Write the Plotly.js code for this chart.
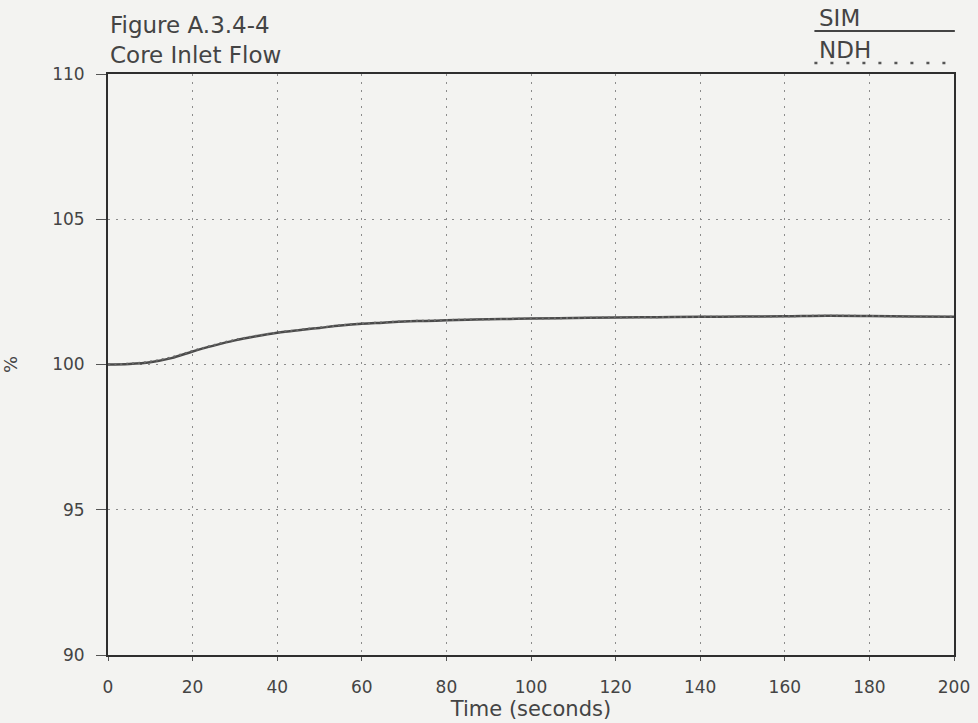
<!DOCTYPE html>
<html>
<head>
<meta charset="utf-8">
<script src="https://cdn.plot.ly/plotly-3.0.1.min.js"></script>
<style>
html,body{margin:0;padding:0;background:#f3f3f1;}
#chart{width:978px;height:723px;}
</style>
</head>
<body>
<div id="chart"></div>
<script>
// Time (seconds)
var timeSec = [0,5,10,15,20,25,30,35,40,45,50,55,60,65,70,75,80,85,90,95,100,110,120,130,140,150,160,170,180,190,200];
// SIM core inlet flow (%)
var simFlow = [100.00,100.02,100.08,100.22,100.45,100.65,100.83,100.97,101.09,101.18,101.26,101.34,101.40,101.44,101.48,101.50,101.52,101.54,101.56,101.57,101.58,101.60,101.62,101.63,101.64,101.65,101.66,101.68,101.67,101.65,101.64];
// NDH core inlet flow (%)
var ndhFlow = [100.00,100.03,100.10,100.25,100.47,100.67,100.85,100.99,101.10,101.19,101.27,101.35,101.41,101.45,101.49,101.51,101.53,101.55,101.56,101.57,101.58,101.60,101.62,101.63,101.64,101.65,101.66,101.68,101.67,101.65,101.64];
var xTicks = [0,20,40,60,80,100,120,140,160,180,200];
var yTicks = [90,95,100,105,110];
var titleLines = ["Figure A.3.4-4","Core Inlet Flow"];
var seriesNames = ["SIM","NDH"];

var ink = '#444';
var font = 'DejaVu Sans, Liberation Sans, Arial, sans-serif';

var traces = [
  {x: timeSec, y: simFlow, name: seriesNames[0], mode: 'lines', line: {color: '#4a4a4a', width: 2.5, shape: 'spline'}, showlegend: false},
  {x: timeSec, y: ndhFlow, name: seriesNames[1], mode: 'lines', line: {color: '#6a6a6a', width: 2, dash: '2px,4px', shape: 'spline'}, showlegend: false}
];

var axisCommon = {
  showline: true, mirror: true, linecolor: '#2e2e2e', linewidth: 2,
  showgrid: true, gridcolor: '#8c8c8c', griddash: '2px,6px', gridwidth: 1,
  zeroline: false,
  tickfont: {family: font, size: 17, color: ink},
  ticks: 'outside', tickcolor: '#555'
};

var layout = {
  width: 978, height: 723,
  paper_bgcolor: '#f3f3f1', plot_bgcolor: '#f3f3f1',
  margin: {l: 108, r: 24, t: 74, b: 68},
  font: {family: font, color: ink},
  xaxis: Object.assign({}, axisCommon, {
    range: [0, 200], tickvals: xTicks, ticktext: xTicks.map(String),
    ticklen: 4, ticklabelstandoff: 12,
    title: {text: 'Time (seconds)', font: {family: font, size: 21, color: ink}, standoff: 0}
  }),
  yaxis: Object.assign({}, axisCommon, {
    range: [90, 110], tickvals: yTicks, ticktext: yTicks.map(String),
    ticklen: 10, ticklabelstandoff: 8,
    title: {text: '%', font: {family: font, size: 18, color: ink}, standoff: 33}
  }),
  annotations: [
    {text: titleLines[0], xref: 'paper', yref: 'paper', x: 0, y: 1.0, yshift: 49, xanchor: 'left', yanchor: 'middle', showarrow: false, font: {family: font, size: 23, color: ink}},
    {text: titleLines[1], xref: 'paper', yref: 'paper', x: 0, y: 1.0, yshift: 19, xanchor: 'left', yanchor: 'middle', showarrow: false, font: {family: font, size: 23, color: ink}},
    {text: seriesNames[0], xref: 'paper', yref: 'paper', x: 0.838, y: 1.0, yshift: 56, xanchor: 'left', yanchor: 'middle', showarrow: false, font: {family: font, size: 23, color: ink}},
    {text: seriesNames[1], xref: 'paper', yref: 'paper', x: 0.838, y: 1.0, yshift: 24, xanchor: 'left', yanchor: 'middle', showarrow: false, font: {family: font, size: 23, color: ink}}
  ],
  shapes: [
    {type: 'line', xref: 'paper', yref: 'paper', x0: 0.835, x1: 1.001, y0: 1.0, y1: 1.0, line: {color: '#444', width: 2}},
    {type: 'line', xref: 'paper', yref: 'paper', x0: 0.835, x1: 0.995, y0: 1.0, y1: 1.0, line: {color: '#555', width: 2.5, dash: '3px,13px'}}
  ]
};
// place legend sample lines at fixed pixel offsets above the plot
var plotH = 723 - 74 - 68;
layout.shapes[0].y0 = layout.shapes[0].y1 = 1 + 43 / plotH;
layout.shapes[1].y0 = layout.shapes[1].y1 = 1 + 11 / plotH;

Plotly.newPlot('chart', traces, layout, {displayModeBar: false, staticPlot: true});
</script>
</body>
</html>
